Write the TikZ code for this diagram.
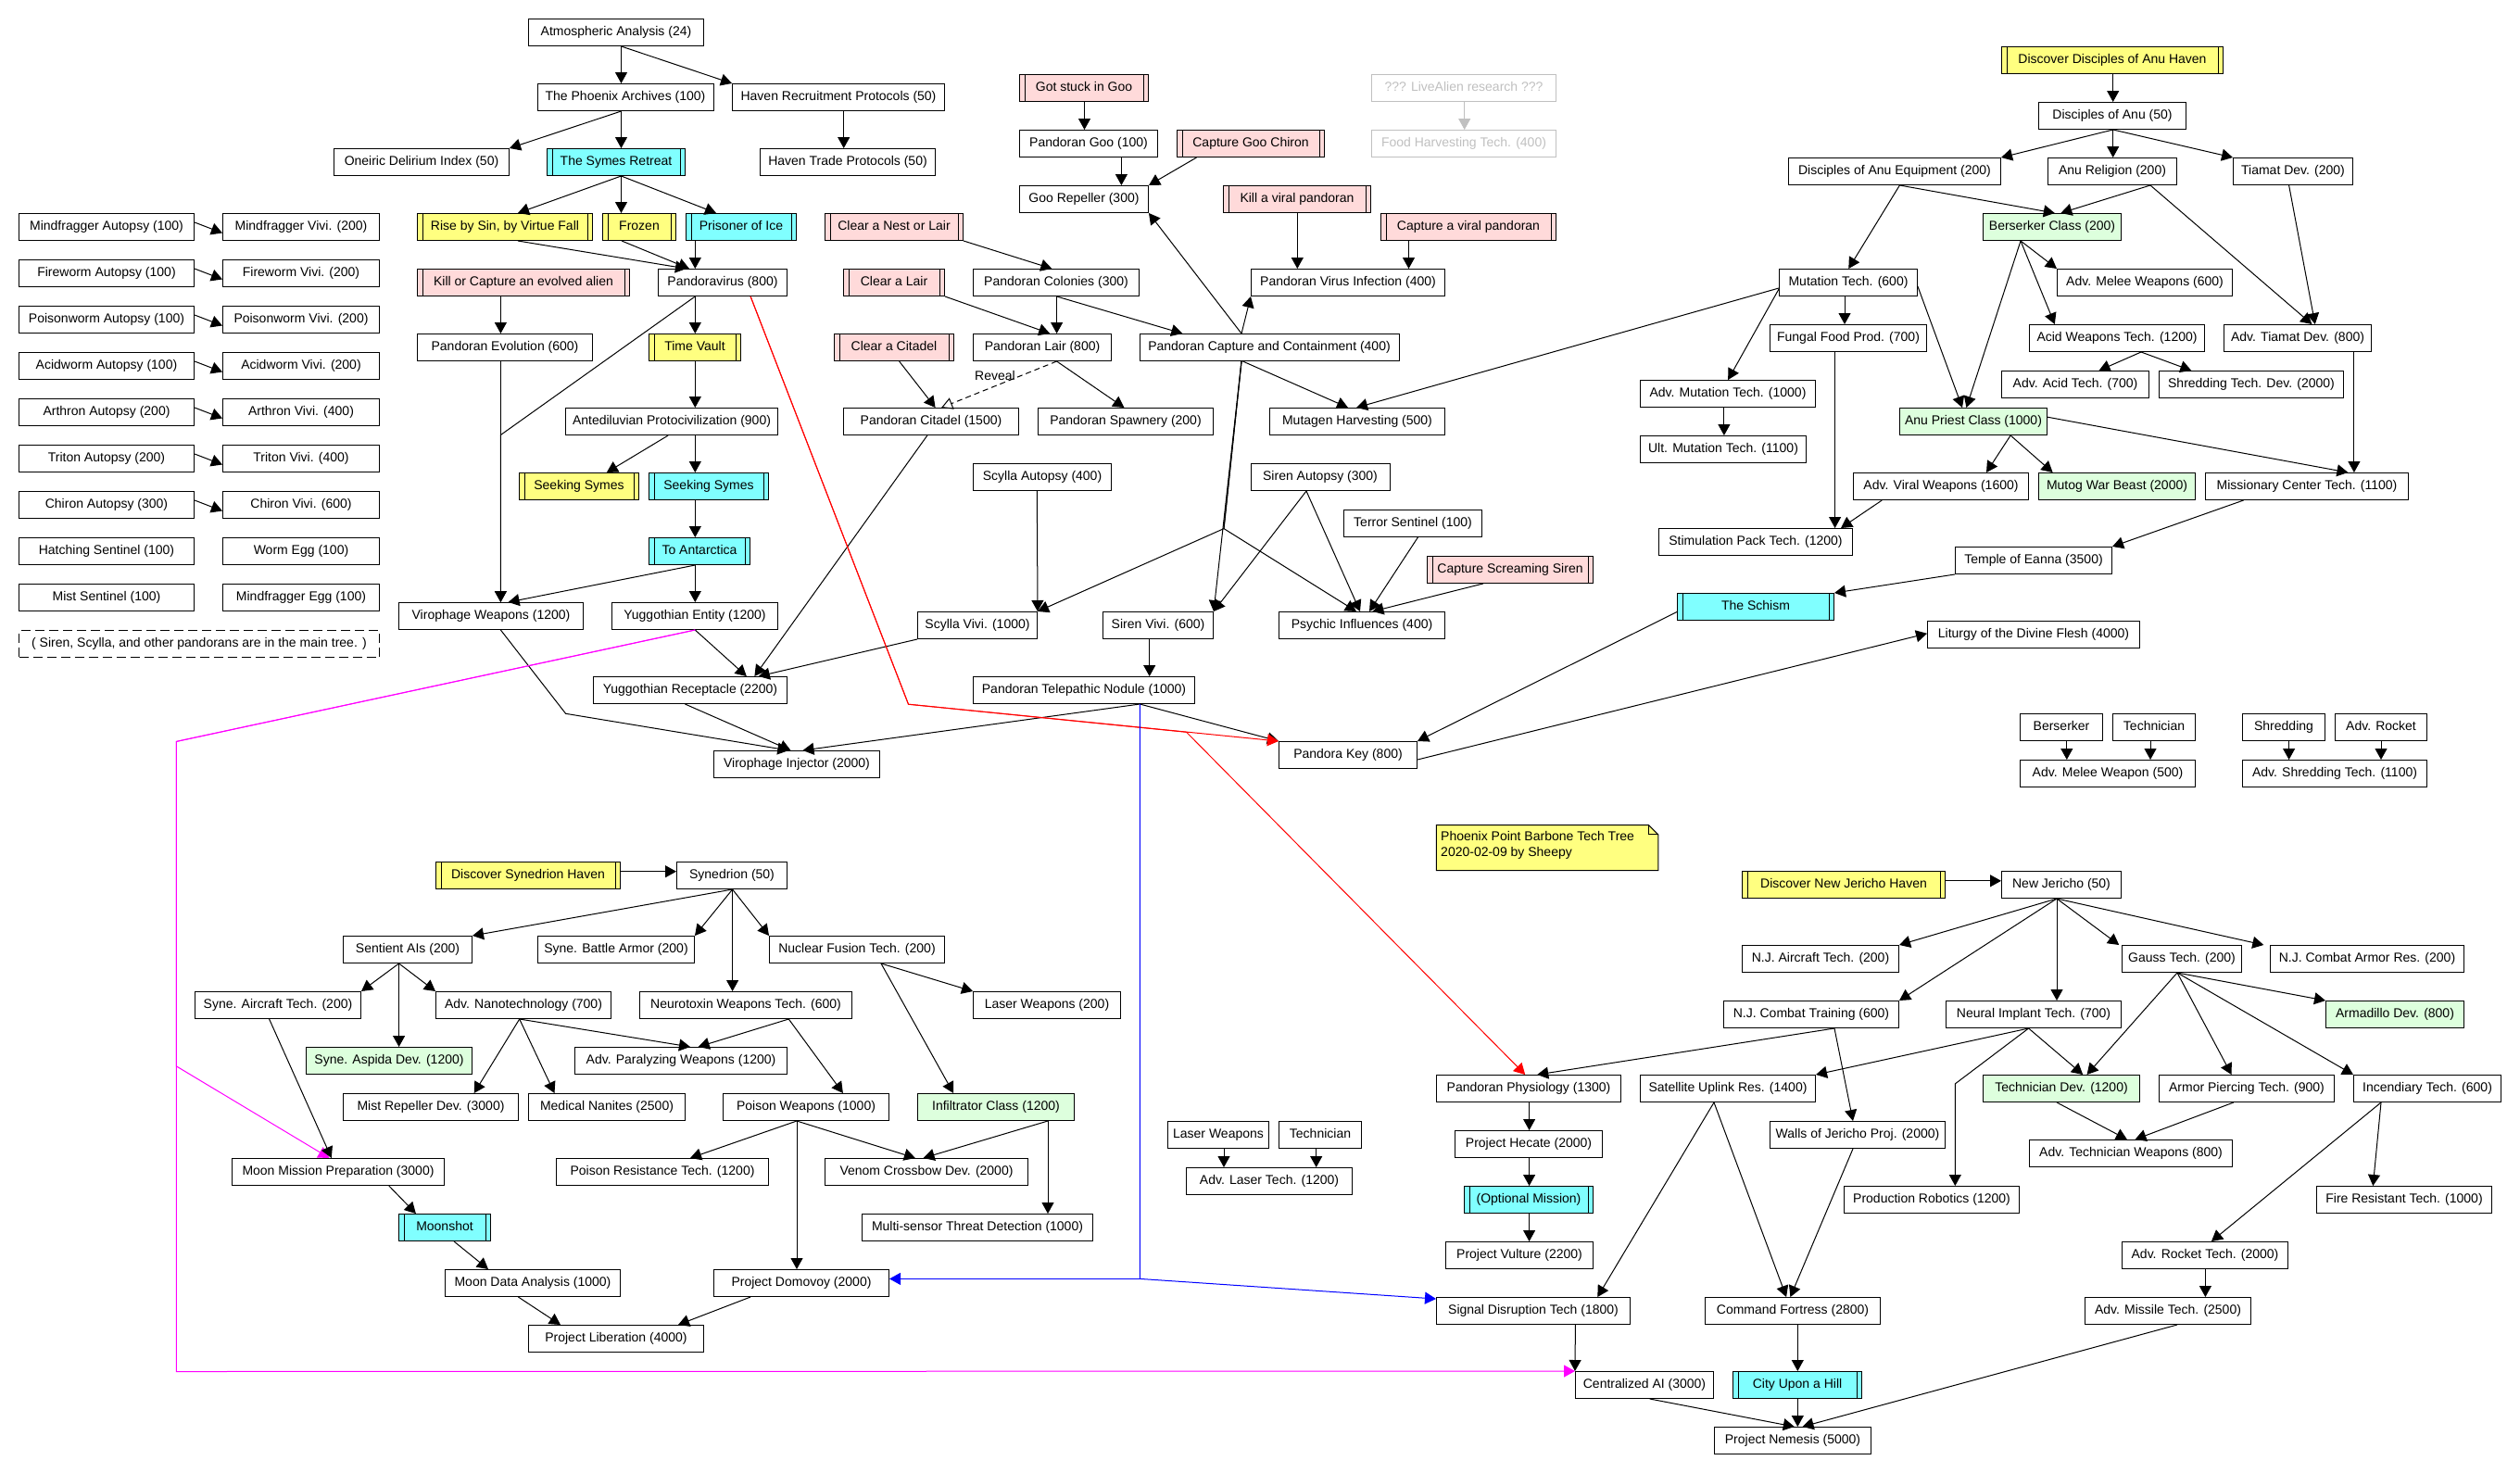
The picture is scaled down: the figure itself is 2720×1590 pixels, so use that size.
\documentclass[tikz,border=0pt]{standalone}
\usepackage{fontspec}
\setmainfont{Liberation Sans}
\usetikzlibrary{arrows.meta}
\definecolor{ylw}{HTML}{FFFF80}
\definecolor{cyn}{HTML}{80FFFF}
\definecolor{pnk}{HTML}{FFDADA}
\definecolor{grn}{HTML}{DDFFDD}
\definecolor{gry}{HTML}{C0C0C0}
\definecolor{mag}{HTML}{FF00FF}
\tikzset{
  nbox/.style={draw=black, line width=1pt, minimum height=29pt, inner sep=0pt,
    font=\fontsize{14}{16}\selectfont, text height=9pt, text depth=3pt, fill=white},
  ngrn/.style={nbox, fill=grn},
  nmis/.style={nbox, path picture={
     \draw[line width=1pt] ([xshift=5.5pt]path picture bounding box.south west) -- ([xshift=5.5pt]path picture bounding box.north west);
     \draw[line width=1pt] ([xshift=-5.5pt]path picture bounding box.south east) -- ([xshift=-5.5pt]path picture bounding box.north east);}},
  nyel/.style={nmis, fill=ylw},
  ncyn/.style={nmis, fill=cyn},
  npnk/.style={nmis, fill=pnk},
  ngry/.style={nbox, draw=gry, text=gry},
  arr/.style={line width=1pt, -{Triangle[length=12pt,width=13pt]}},
}
\newcommand{\mkn}[5]{\node[#1, minimum width=#2pt] (#3) at (#4) {#5};}
\begin{document}
\begin{tikzpicture}[x=1pt,y=-1pt]
\fill[white] (0,0) rectangle (2720,1590);
\useasboundingbox (0,0) rectangle (2720,1590);

% ---------- left column ----------
\mkn{nbox}{189}{ma1}{115,245}{Mindfragger Autopsy (100)}
\mkn{nbox}{169}{mv1}{325,245}{Mindfragger Vivi. (200)}
\mkn{nbox}{189}{ma2}{115,295}{Fireworm Autopsy (100)}
\mkn{nbox}{169}{mv2}{325,295}{Fireworm Vivi. (200)}
\mkn{nbox}{189}{ma3}{115,345}{Poisonworm Autopsy (100)}
\mkn{nbox}{169}{mv3}{325,345}{Poisonworm Vivi. (200)}
\mkn{nbox}{189}{ma4}{115,395}{Acidworm Autopsy (100)}
\mkn{nbox}{169}{mv4}{325,395}{Acidworm Vivi. (200)}
\mkn{nbox}{189}{ma5}{115,445}{Arthron Autopsy (200)}
\mkn{nbox}{169}{mv5}{325,445}{Arthron Vivi. (400)}
\mkn{nbox}{189}{ma6}{115,495}{Triton Autopsy (200)}
\mkn{nbox}{169}{mv6}{325,495}{Triton Vivi. (400)}
\mkn{nbox}{189}{ma7}{115,545}{Chiron Autopsy (300)}
\mkn{nbox}{169}{mv7}{325,545}{Chiron Vivi. (600)}
\mkn{nbox}{189}{hse}{115,595}{Hatching Sentinel (100)}
\mkn{nbox}{169}{weg}{325,595}{Worm Egg (100)}
\mkn{nbox}{189}{mse}{115,645}{Mist Sentinel (100)}
\mkn{nbox}{169}{meg}{325,645}{Mindfragger Egg (100)}
\node[nbox, dash pattern=on 10pt off 5pt, minimum width=389pt] (dnote) at (215,695) {( Siren, Scylla, and other pandorans are in the main tree. )};
\foreach \i in {1,...,7}{\draw[arr] ([yshift=5pt]ma\i.east) -- ([yshift=-6.5pt]mv\i.west);}

% ---------- top middle ----------
\mkn{nbox}{189}{atm}{665,35}{Atmospheric Analysis (24)}
\mkn{nbox}{190}{phx}{675,105}{The Phoenix Archives (100)}
\mkn{nbox}{229}{hrp}{905,105}{Haven Recruitment Protocols (50)}
\mkn{nbox}{189}{odi}{455,175}{Oneiric Delirium Index (50)}
\mkn{ncyn}{149}{sym}{665,175}{The Symes Retreat}
\mkn{nbox}{189}{htp}{915,175}{Haven Trade Protocols (50)}
\mkn{nyel}{189}{rbs}{545,245}{Rise by Sin, by Virtue Fall}
\mkn{nyel}{79}{frz}{690,245}{Frozen}
\mkn{ncyn}{119}{poi}{800,245}{Prisoner of Ice}
\mkn{npnk}{229}{kca}{565,305}{Kill or Capture an evolved alien}
\mkn{nbox}{139}{pvr}{780,305}{Pandoravirus (800)}
\mkn{nbox}{189}{pev}{545,375}{Pandoran Evolution (600)}
\mkn{nyel}{99}{tvt}{750,375}{Time Vault}
\mkn{nbox}{229}{apc}{725,455}{Antediluvian Protocivilization (900)}
\mkn{nyel}{129}{ssy}{625,525}{Seeking Symes}
\mkn{ncyn}{129}{ssc}{765,525}{Seeking Symes}
\mkn{ncyn}{109}{toa}{755,595}{To Antarctica}
\mkn{nbox}{199}{vwp}{530,665}{Virophage Weapons (1200)}
\mkn{nbox}{179}{yge}{750,665}{Yuggothian Entity (1200)}
\mkn{nbox}{209}{ygr}{745,745}{Yuggothian Receptacle (2200)}
\mkn{nbox}{179}{vij}{860,825}{Virophage Injector (2000)}

\mkn{npnk}{139}{gsg}{1170,95}{Got stuck in Goo}
\mkn{nbox}{149}{pgo}{1175,155}{Pandoran Goo (100)}
\mkn{npnk}{159}{cng}{1350,155}{Capture Goo Chiron}
\mkn{nbox}{139}{grp}{1170,215}{Goo Repeller (300)}
\mkn{npnk}{159}{kvp}{1400,215}{Kill a viral pandoran}
\mkn{npnk}{189}{cvp}{1585,245}{Capture a viral pandoran}
\mkn{ngry}{199}{lar}{1580,95}{??? LiveAlien research ???}
\mkn{ngry}{199}{fht}{1580,155}{Food Harvesting Tech. (400)}
\mkn{npnk}{149}{cnl}{965,245}{Clear a Nest or Lair}
\mkn{npnk}{109}{cla}{965,305}{Clear a Lair}
\mkn{nbox}{179}{pco}{1140,305}{Pandoran Colonies (300)}
\mkn{nbox}{209}{pvi}{1455,305}{Pandoran Virus Infection (400)}
\mkn{npnk}{129}{cci}{965,375}{Clear a Citadel}
\mkn{nbox}{149}{pla}{1125,375}{Pandoran Lair (800)}
\mkn{nbox}{280}{pcc}{1370,375}{Pandoran Capture and Containment (400)}
\mkn{nbox}{189}{pci}{1005,455}{Pandoran Citadel (1500)}
\mkn{nbox}{189}{psp}{1215,455}{Pandoran Spawnery (200)}
\mkn{nbox}{189}{mhv}{1465,455}{Mutagen Harvesting (500)}
\mkn{nbox}{149}{sca}{1125,515}{Scylla Autopsy (400)}
\mkn{nbox}{150}{sra}{1425,515}{Siren Autopsy (300)}
\mkn{nbox}{149}{tse}{1525,565}{Terror Sentinel (100)}
\mkn{npnk}{179}{css}{1630,615}{Capture Screaming Siren}
\mkn{nbox}{129}{scv}{1055,675}{Scylla Vivi. (1000)}
\mkn{nbox}{119}{srv}{1250,675}{Siren Vivi. (600)}
\mkn{nbox}{179}{psi}{1470,675}{Psychic Influences (400)}
\mkn{nbox}{239}{ptn}{1170,745}{Pandoran Telepathic Nodule (1000)}
\mkn{nbox}{149}{pky}{1455,815}{Pandora Key (800)}
\node[font=\fontsize{14}{16}\selectfont, inner sep=0pt] (rvl) at (1074,405) {Reveal};

% note
\filldraw[fill=ylw, draw=black, line width=1pt] (1550.4,890.6) -- (1779.5,890.6) -- (1789.8,900.9) -- (1789.8,939.7) -- (1550.4,939.7) -- cycle;
\draw[line width=1pt] (1779.5,890.6) -- (1779.5,900.9) -- (1789.8,900.9);
\node[anchor=north west, align=left, inner sep=0pt, font=\fontsize{14}{16.2}\selectfont] (ntx) at (1555,897.5) {Phoenix Point Barbone Tech Tree\\2020-02-09 by Sheepy};

% ---------- Anu ----------
\mkn{nyel}{239}{dah}{2280,65}{Discover Disciples of Anu Haven}
\mkn{nbox}{159}{dan}{2280,125}{Disciples of Anu (50)}
\mkn{nbox}{229}{dae}{2045,185}{Disciples of Anu Equipment (200)}
\mkn{nbox}{139}{arl}{2280,185}{Anu Religion (200)}
\mkn{nbox}{129}{tia}{2475,185}{Tiamat Dev. (200)}
\mkn{ngrn}{149}{bcl}{2215,245}{Berserker Class (200)}
\mkn{nbox}{149}{mut}{1995,305}{Mutation Tech. (600)}
\mkn{nbox}{189}{amw}{2315,305}{Adv. Melee Weapons (600)}
\mkn{nbox}{169}{ffp}{1995,365}{Fungal Food Prod. (700)}
\mkn{nbox}{189}{awt}{2285,365}{Acid Weapons Tech. (1200)}
\mkn{nbox}{159}{atd}{2480,365}{Adv. Tiamat Dev. (800)}
\mkn{nbox}{189}{amt}{1865,425}{Adv. Mutation Tech. (1000)}
\mkn{nbox}{159}{aat}{2240,415}{Adv. Acid Tech. (700)}
\mkn{nbox}{199}{std}{2430,415}{Shredding Tech. Dev. (2000)}
\mkn{nbox}{179}{umt}{1860,485}{Ult. Mutation Tech. (1100)}
\mkn{ngrn}{159}{apr}{2130,455}{Anu Priest Class (1000)}
\mkn{nbox}{189}{avw}{2095,525}{Adv. Viral Weapons (1600)}
\mkn{ngrn}{169}{mwb}{2285,525}{Mutog War Beast (2000)}
\mkn{nbox}{219}{mct}{2490,525}{Missionary Center Tech. (1100)}
\mkn{nbox}{209}{spt}{1895,585}{Stimulation Pack Tech. (1200)}
\mkn{nbox}{169}{toe}{2195,605}{Temple of Eanna (3500)}
\mkn{ncyn}{169}{sch}{1895,655}{The Schism}
\mkn{nbox}{229}{ldf}{2195,685}{Liturgy of the Divine Flesh (4000)}
\mkn{nbox}{89}{bsk}{2225,785}{Berserker}
\mkn{nbox}{89}{tcn}{2325,785}{Technician}
\mkn{nbox}{189}{amwp}{2275,835}{Adv. Melee Weapon (500)}
\mkn{nbox}{89}{shr}{2465,785}{Shredding}
\mkn{nbox}{99}{arc}{2570,785}{Adv. Rocket}
\mkn{nbox}{199}{ast}{2520,835}{Adv. Shredding Tech. (1100)}

% ---------- New Jericho ----------
\mkn{nyel}{219}{dnj}{1990,955}{Discover New Jericho Haven}
\mkn{nbox}{129}{nj}{2225,955}{New Jericho (50)}
\mkn{nbox}{169}{nja}{1965,1035}{N.J. Aircraft Tech. (200)}
\mkn{nbox}{129}{gau}{2355,1035}{Gauss Tech. (200)}
\mkn{nbox}{209}{nca}{2555,1035}{N.J. Combat Armor Res. (200)}
\mkn{nbox}{189}{njt}{1955,1095}{N.J. Combat Training (600)}
\mkn{nbox}{189}{nit}{2195,1095}{Neural Implant Tech. (700)}
\mkn{ngrn}{149}{arm}{2585,1095}{Armadillo Dev. (800)}
\mkn{nbox}{199}{pph}{1650,1175}{Pandoran Physiology (1300)}
\mkn{nbox}{189}{sur}{1865,1175}{Satellite Uplink Res. (1400)}
\mkn{ngrn}{169}{tdv}{2225,1175}{Technician Dev. (1200)}
\mkn{nbox}{189}{apt}{2425,1175}{Armor Piercing Tech. (900)}
\mkn{nbox}{159}{inc}{2620,1175}{Incendiary Tech. (600)}
\mkn{nbox}{159}{phe}{1650,1235}{Project Hecate (2000)}
\mkn{nbox}{189}{wjp}{2005,1225}{Walls of Jericho Proj. (2000)}
\mkn{nbox}{219}{atw}{2300,1245}{Adv. Technician Weapons (800)}
\mkn{ncyn}{139}{opm}{1650,1295}{(Optional Mission)}
\mkn{nbox}{189}{prb}{2085,1295}{Production Robotics (1200)}
\mkn{nbox}{189}{frt}{2595,1295}{Fire Resistant Tech. (1000)}
\mkn{nbox}{159}{pvu}{1640,1355}{Project Vulture (2200)}
\mkn{nbox}{179}{art}{2380,1355}{Adv. Rocket Tech. (2000)}
\mkn{nbox}{209}{sdt}{1655,1415}{Signal Disruption Tech (1800)}
\mkn{nbox}{189}{cfo}{1935,1415}{Command Fortress (2800)}
\mkn{nbox}{179}{ams}{2340,1415}{Adv. Missile Tech. (2500)}
\mkn{nbox}{149}{cai}{1775,1495}{Centralized AI (3000)}
\mkn{ncyn}{139}{cuh}{1940,1495}{City Upon a Hill}
\mkn{nbox}{169}{pne}{1935,1555}{Project Nemesis (5000)}

% ---------- Synedrion ----------
\mkn{nyel}{199}{dsh}{570,945}{Discover Synedrion Haven}
\mkn{nbox}{119}{syn}{790,945}{Synedrion (50)}
\mkn{nbox}{139}{sai}{440,1025}{Sentient AIs (200)}
\mkn{nbox}{169}{sba}{665,1025}{Syne. Battle Armor (200)}
\mkn{nbox}{189}{nft}{925,1025}{Nuclear Fusion Tech. (200)}
\mkn{nbox}{179}{sat}{300,1085}{Syne. Aircraft Tech. (200)}
\mkn{nbox}{189}{ant}{565,1085}{Adv. Nanotechnology (700)}
\mkn{nbox}{229}{nwt}{805,1085}{Neurotoxin Weapons Tech. (600)}
\mkn{nbox}{159}{lwp}{1130,1085}{Laser Weapons (200)}
\mkn{ngrn}{179}{sad}{420,1145}{Syne. Aspida Dev. (1200)}
\mkn{nbox}{229}{apw}{735,1145}{Adv. Paralyzing Weapons (1200)}
\mkn{nbox}{189}{mrd}{465,1195}{Mist Repeller Dev. (3000)}
\mkn{nbox}{169}{mnn}{655,1195}{Medical Nanites (2500)}
\mkn{nbox}{179}{pwp}{870,1195}{Poison Weapons (1000)}
\mkn{ngrn}{169}{icl}{1075,1195}{Infiltrator Class (1200)}
\mkn{nbox}{109}{lw2}{1315,1225}{Laser Weapons}
\mkn{nbox}{89}{tc2}{1425,1225}{Technician}
\mkn{nbox}{229}{mmp}{365,1265}{Moon Mission Preparation (3000)}
\mkn{nbox}{229}{prt}{715,1265}{Poison Resistance Tech. (1200)}
\mkn{nbox}{219}{vcd}{1000,1265}{Venom Crossbow Dev. (2000)}
\mkn{nbox}{179}{alt}{1370,1275}{Adv. Laser Tech. (1200)}
\mkn{ncyn}{99}{msh}{480,1325}{Moonshot}
\mkn{nbox}{249}{mtd}{1055,1325}{Multi-sensor Threat Detection (1000)}
\mkn{nbox}{189}{mda}{575,1385}{Moon Data Analysis (1000)}
\mkn{nbox}{189}{pdo}{865,1385}{Project Domovoy (2000)}
\mkn{nbox}{189}{pli}{665,1445}{Project Liberation (4000)}

% ---------- edges: top middle ----------
\draw[arr] ([xshift=5.5pt]atm.south) -- ([xshift=-4.5pt]phx.north);
\draw[arr] ([xshift=5.5pt]atm.south) -- (hrp.north west);
\draw[arr] ([xshift=-4.5pt]phx.south) -- (odi.north east);
\draw[arr] ([xshift=-4.5pt]phx.south) -- ([xshift=5.5pt]sym.north);
\draw[arr] ([xshift=5.7pt]hrp.south) -- ([xshift=-4.3pt]htp.north);
\draw[arr] ([xshift=5.5pt]sym.south) -- ([xshift=14pt]rbs.north);
\draw[arr] ([xshift=5.5pt]sym.south) -- ([xshift=-19.5pt]frz.north);
\draw[arr] ([xshift=5.5pt]sym.south) -- ([xshift=-27pt]poi.north);
\draw[arr] ([xshift=14pt]rbs.south) -- ([xshift=-39pt]pvr.north);
\draw[arr] ([xshift=-19pt]frz.south) -- ([xshift=-36pt]pvr.north);
\draw[arr] ([xshift=-49.7pt]poi.south) -- ([xshift=-29.7pt]pvr.north);
\draw[arr] ([xshift=-24.6pt]kca.south) -- ([xshift=-4.6pt]pev.north);
\draw[arr] ([xshift=-29.7pt]pvr.south) -- ([xshift=0.3pt]tvt.north);
\draw[arr] ([xshift=-29.7pt]pvr.south) -- (540.4,469.5) -- ([xshift=10.4pt]vwp.north);
\draw[arr] ([xshift=-4.6pt]pev.south) -- ([xshift=10.4pt]vwp.north);
\draw[arr] ([xshift=-4.7pt]toa.south) -- ([xshift=18.6pt]vwp.north);
\draw[arr] ([xshift=0.3pt]tvt.south) -- ([xshift=25.3pt]apc.north);
\draw[arr] ([xshift=-3.8pt]apc.south) -- ([xshift=29.8pt]ssy.north);
\draw[arr] ([xshift=25.3pt]apc.south) -- ([xshift=-14.7pt]ssc.north);
\draw[arr] ([xshift=-14.7pt]ssc.south) -- ([xshift=-4.7pt]toa.north);
\draw[arr] ([xshift=-4.7pt]toa.south) -- ([xshift=0.3pt]yge.north);
\draw[arr] ([xshift=0.3pt]yge.south) -- ([xshift=60.8pt]ygr.north);
\draw[arr] ([xshift=-4.1pt]pci.south) -- ([xshift=69.4pt]ygr.north);
\draw[arr] (scv.south west) -- ([xshift=73.8pt]ygr.north);
\draw[arr] ([xshift=-5.6pt]ygr.south) -- ([xshift=-6.5pt]vij.north);
\draw[arr] ([xshift=10.4pt]vwp.south) -- (610.6,770.3) -- ([xshift=-8.7pt]vij.north);
\draw[arr] ([xshift=60.3pt]ptn.south) -- ([xshift=6.5pt]vij.north);
\draw[arr] ([xshift=60.3pt]ptn.south) -- (pky.north west);

\draw[arr] ([xshift=0.5pt]gsg.south) -- ([xshift=-4.5pt]pgo.north);
\draw[arr] ([xshift=35.4pt]pgo.south) -- ([xshift=40.4pt]grp.north);
\draw[arr] ([xshift=-58.5pt]cng.south) -- (grp.north east);
\draw[arr] ([xshift=0.3pt]kvp.south) -- ([xshift=-54.7pt]pvi.north);
\draw[arr] ([xshift=-64.5pt]cvp.south) -- ([xshift=65.5pt]pvi.north);
\draw[arr, gry] ([xshift=0.7pt]lar.south) -- ([xshift=0.7pt]fht.north);
\draw[arr] (cnl.south east) -- ([xshift=-4.6pt]pco.north);
\draw[arr] (cla.south east) -- ([xshift=8.2pt]pla.north);
\draw[arr] ([xshift=0.6pt]pco.south) -- ([xshift=15.6pt]pla.north);
\draw[arr] ([xshift=0.6pt]pco.south) -- ([xshift=-93.7pt]pcc.north);
\draw[arr] ([xshift=5.6pt]cci.south) -- ([xshift=4.6pt]pci.north);
\draw[line width=1pt, dash pattern=on 6pt off 4pt, -{Triangle[open,length=12pt,width=13pt]}] ([xshift=15.6pt]pla.south) -- ([xshift=11.1pt]pci.north);
\draw[arr] ([xshift=15.6pt]pla.south) -- ([xshift=-1.6pt]psp.north);
\draw[arr] ([xshift=-30pt]pcc.north) -- (grp.south east);
\draw[arr] ([xshift=-30pt]pcc.north) -- (pvi.south west);
\draw[arr] ([xshift=-28.6pt]pcc.south) -- ([xshift=-10pt]mhv.north);
\draw[arr] ([xshift=-30pt]pcc.south) -- (srv.north east);
\draw[arr] ([xshift=-30pt]pcc.south) -- (1321,570.6) -- (scv.north east);
\draw[arr] ([xshift=-30pt]pcc.south) -- (1321,570.6) -- ([xshift=-6pt]psi.north);
\draw[arr] ([xshift=-5.7pt]sca.south) -- (scv.north east);
\draw[arr] ([xshift=-15pt]sra.south) -- (srv.north east);
\draw[arr] ([xshift=-15pt]sra.south) -- ([xshift=-2pt]psi.north);
\draw[arr] ([xshift=5.4pt]tse.south) -- ([xshift=8pt]psi.north);
\draw[arr] ([xshift=-29.3pt]css.south) -- ([xshift=11.4pt]psi.north);
\draw[arr] ([xshift=-9.3pt]srv.south) -- ([xshift=70.7pt]ptn.north);
\draw[arr] ([yshift=-6pt]mut.west) -- ([xshift=-1pt]mhv.north);

% red / blue / magenta
\draw[arr, red] ([xshift=30.1pt]pvr.south) -- (980.5,760.2) -- (pky.north west);
\draw[arr, red] ([xshift=30.1pt]pvr.south) -- (980.5,760.2) -- (1280.6,790.3) -- ([xshift=-3.8pt]pph.north);
\draw[arr, blue] ([xshift=60.3pt]ptn.south) -- (1230.3,1380.4) -- ([yshift=4.6pt]pdo.east);
\draw[arr, blue] ([xshift=60.3pt]ptn.south) -- (1230.3,1380.4) -- ([yshift=13pt]sdt.west);
\draw[arr, mag] ([xshift=0.3pt]yge.south) -- (190.4,800.4) -- (190.4,1150.9) -- ([xshift=-9.4pt]mmp.north);
\draw[arr, mag] ([xshift=0.3pt]yge.south) -- (190.4,800.4) -- (190.4,1480.5) -- (cai.north west);

% pandora key / schism
\draw[arr] ([yshift=-5.5pt]sch.west) -- (pky.north east);
\draw[arr] ([yshift=-5pt]pky.east) -- ([yshift=1.2pt]ldf.west);
\draw[arr] (toe.south west) -- (sch.north east);
\draw[arr] ([xshift=-68.4pt]mct.south) -- (toe.north east);

% ---------- edges: Anu ----------
\draw[arr] ([xshift=0.7pt]dah.south) -- ([xshift=0.7pt]dan.north);
\draw[arr] ([xshift=0.7pt]dan.south) -- (dae.north east);
\draw[arr] ([xshift=0.7pt]dan.south) -- ([xshift=0.7pt]arl.north);
\draw[arr] ([xshift=0.7pt]dan.south) -- (tia.north west);
\draw[arr] ([xshift=5.4pt]dae.south) -- ([xshift=2.8pt]bcl.north);
\draw[arr] ([xshift=41pt]arl.south) -- ([xshift=9.3pt]bcl.north);
\draw[arr] ([xshift=5.4pt]dae.south) -- ([xshift=0.3pt]mut.north);
\draw[arr] ([xshift=41pt]arl.south) -- ([xshift=15.4pt]atd.north);
\draw[arr] ([xshift=-4.4pt]tia.south) -- ([xshift=18.8pt]atd.north);
\draw[arr] ([xshift=-34pt]bcl.south) -- (amw.north west);
\draw[arr] ([xshift=-34pt]bcl.south) -- ([xshift=-67.2pt]awt.north);
\draw[arr] ([xshift=-34pt]bcl.south) -- ([xshift=-7.6pt]apr.north);
\draw[arr] ([yshift=-4.3pt]mut.east) -- ([xshift=-12pt]apr.north);
\draw[arr] ([xshift=26pt]awt.south) -- ([xshift=25.5pt]aat.north);
\draw[arr] ([xshift=26pt]awt.south) -- ([xshift=-64.7pt]std.north);
\draw[arr] ([xshift=60.9pt]atd.south) -- ([xshift=50.9pt]mct.north);
\draw[arr] ([yshift=4.8pt]apr.east) -- ([xshift=44.4pt]mct.north);
\draw[arr] ([xshift=40.1pt]apr.south) -- ([xshift=49pt]avw.north);
\draw[arr] ([xshift=40.1pt]apr.south) -- ([xshift=-69.4pt]mwb.north);
\draw[arr] ([xshift=-4pt]mut.south) -- ([xshift=-4pt]ffp.north);
\draw[arr] ([yshift=-7pt]mut.west) -- ([xshift=0.2pt]amt.north);
\draw[arr] ([xshift=-4.1pt]amt.south) -- ([xshift=0.9pt]umt.north);
\draw[arr] ([xshift=-14.4pt]ffp.south) -- ([xshift=85.6pt]spt.north);
\draw[arr] ([xshift=-63.7pt]avw.south) -- ([xshift=92pt]spt.north);
\draw[arr] ([xshift=5.8pt]bsk.south) -- ([xshift=-44.2pt]amwp.north);
\draw[arr] ([xshift=-4pt]tcn.south) -- ([xshift=46pt]amwp.north);
\draw[arr] ([xshift=5.6pt]shr.south) -- ([xshift=-49.4pt]ast.north);
\draw[arr] (arc.south) -- ([xshift=50pt]ast.north);

% ---------- edges: New Jericho ----------
\draw[arr] ([yshift=4.2pt]dnj.east) -- ([yshift=4.2pt]nj.west);
\draw[arr] ([xshift=-5pt]nj.south) -- (nja.north east);
\draw[arr] ([xshift=-5pt]nj.south) -- (njt.north east);
\draw[arr] ([xshift=-5pt]nj.south) -- ([xshift=25pt]nit.north);
\draw[arr] ([xshift=-5pt]nj.south) -- ([xshift=-67.8pt]gau.north);
\draw[arr] ([xshift=-5pt]nj.south) -- ([xshift=-111.7pt]nca.north);
\draw[arr] ([xshift=-5pt]gau.south) -- (arm.north west);
\draw[arr] ([xshift=-5pt]gau.south) -- ([xshift=27.5pt]tdv.north);
\draw[arr] ([xshift=-5pt]gau.south) -- ([xshift=-16.4pt]apt.north);
\draw[arr] ([xshift=-5pt]gau.south) -- (inc.north west);
\draw[arr] ([xshift=-5.4pt]nit.south) -- ([xshift=23.2pt]tdv.north);
\draw[arr] ([xshift=-5.4pt]nit.south) -- (sur.north east);
\draw[arr] ([xshift=-5.4pt]nit.south) -- (2110.3,1169.9) -- ([xshift=25.3pt]prb.north);
\draw[arr] ([xshift=25pt]njt.south) -- ([xshift=9.2pt]pph.north);
\draw[arr] ([xshift=25pt]njt.south) -- ([xshift=-5pt]wjp.north);
\draw[arr] ([xshift=-15pt]sur.south) -- ([xshift=69.3pt]sdt.north);
\draw[arr] ([xshift=-15pt]sur.south) -- ([xshift=-6.9pt]cfo.north);
\draw[arr] ([xshift=-5pt]wjp.south) -- ([xshift=-2.6pt]cfo.north);
\draw[arr] ([xshift=5.3pt]cfo.south) -- ([xshift=0.3pt]cuh.north);
\draw[arr] ([xshift=0.3pt]cuh.south) -- ([xshift=5.3pt]pne.north);
\draw[arr] ([xshift=5.7pt]cai.south) -- ([xshift=1.8pt]pne.north);
\draw[arr] ([xshift=10pt]ams.south) -- ([xshift=10.5pt]pne.north);
\draw[arr] ([xshift=45.4pt]sdt.south) -- (cai.north west);
\draw[arr] ([xshift=0.6pt]pph.south) -- ([xshift=0.6pt]phe.north);
\draw[arr] ([xshift=0.6pt]phe.south) -- ([xshift=0.6pt]opm.north);
\draw[arr] ([xshift=0.6pt]opm.south) -- ([xshift=10.6pt]pvu.north);
\draw[arr] ([xshift=-5pt]tdv.south) -- ([xshift=-4.1pt]atw.north);
\draw[arr] ([xshift=-14.2pt]apt.south) -- ([xshift=4.5pt]atw.north);
\draw[arr] ([xshift=-50pt]inc.south) -- ([xshift=6.9pt]art.north);
\draw[arr] ([xshift=-50pt]inc.south) -- ([xshift=-33.7pt]frt.north);
\draw[arr] ([xshift=0.4pt]art.south) -- ([xshift=40.4pt]ams.north);
\draw[arr] ([xshift=6pt]lw2.south) -- ([xshift=-49pt]alt.north);
\draw[arr] ([xshift=-4.3pt]tc2.south) -- ([xshift=50.7pt]alt.north);

% ---------- edges: Synedrion ----------
\draw[arr] ([yshift=4.3pt]dsh.east) -- ([yshift=4.3pt]syn.west);
\draw[arr] ([xshift=0.6pt]syn.south) -- (sai.north east);
\draw[arr] ([xshift=0.6pt]syn.south) -- (sba.north east);
\draw[arr] ([xshift=0.6pt]syn.south) -- ([xshift=-14.4pt]nwt.north);
\draw[arr] ([xshift=0.6pt]syn.south) -- (nft.north west);
\draw[arr] ([xshift=-9.4pt]sai.south) -- (sat.north east);
\draw[arr] ([xshift=-9.4pt]sai.south) -- ([xshift=10.6pt]sad.north);
\draw[arr] ([xshift=-9.4pt]sai.south) -- (ant.north west);
\draw[arr] ([xshift=-4.3pt]ant.south) -- ([xshift=46.7pt]mrd.north);
\draw[arr] ([xshift=-4.3pt]ant.south) -- ([xshift=-56.5pt]mnn.north);
\draw[arr] ([xshift=-4.3pt]ant.south) -- ([xshift=10pt]apw.north);
\draw[arr] ([xshift=46.3pt]nwt.south) -- ([xshift=18.7pt]apw.north);
\draw[arr] ([xshift=46.3pt]nwt.south) -- ([xshift=39.9pt]pwp.north);
\draw[arr] ([xshift=26pt]nft.south) -- (lwp.north west);
\draw[arr] ([xshift=26pt]nft.south) -- ([xshift=-45.9pt]icl.north);
\draw[arr] ([xshift=-10pt]pwp.south) -- ([xshift=30pt]prt.north);
\draw[arr] ([xshift=-10pt]pwp.south) -- ([xshift=-12.1pt]vcd.north);
\draw[arr] ([xshift=-10pt]pwp.south) -- ([xshift=-5pt]pdo.north);
\draw[arr] ([xshift=56pt]icl.south) -- ([xshift=-3.4pt]vcd.north);
\draw[arr] ([xshift=56pt]icl.south) -- ([xshift=76pt]mtd.north);
\draw[arr] ([xshift=-9.4pt]sat.south) -- ([xshift=-7.2pt]mmp.north);
\draw[arr] ([xshift=54.8pt]mmp.south) -- ([xshift=-31.1pt]msh.north);
\draw[arr] ([xshift=10pt]msh.south) -- ([xshift=-48pt]mda.north);
\draw[arr] ([xshift=-15.6pt]mda.south) -- ([xshift=-60pt]pli.north);
\draw[arr] ([xshift=-54.9pt]pdo.south) -- ([xshift=67pt]pli.north);
\end{tikzpicture}
\end{document}
